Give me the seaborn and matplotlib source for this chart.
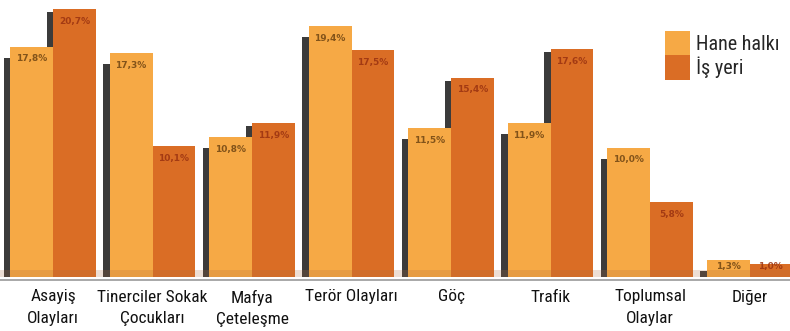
import matplotlib
matplotlib.use("Agg")
import matplotlib.pyplot as plt
import seaborn as sns
import pandas as pd
import numpy as np
from matplotlib.patches import Rectangle, Patch

categories = ["Asayiş\nOlayları", "Tinerciler Sokak\nÇocukları", "Mafya\nÇeteleşme",
              "Terör Olayları", "Göç", "Trafik", "Toplumsal\nOlaylar", "Diğer"]
hane = [17.8, 17.3, 10.8, 19.4, 11.5, 11.9, 10.0, 1.3]
isyeri = [20.7, 10.1, 11.9, 17.5, 15.4, 17.6, 5.8, 1.0]
hane_labels = ["17,8%", "17,3%", "10,8%", "19,4%", "11,5%", "11,9%", "10,0%", "1,3%"]
isyeri_labels = ["20,7%", "10,1%", "11,9%", "17,5%", "15,4%", "17,6%", "5,8%", "1,0%"]
series = ["Hane halkı", "İş yeri"]

sns.set_theme(style="white")
FAM = ["Liberation Sans Narrow", "Roboto Condensed", "DejaVu Sans"]
plt.rcParams["font.family"] = FAM

df = pd.DataFrame({
    "cat": categories * 2,
    "val": hane + isyeri,
    "ser": [series[0]] * len(categories) + [series[1]] * len(categories),
})
colors = {"Hane halkı": "#F6A945", "İş yeri": "#DA6D25"}

fig = plt.figure(figsize=(7.9, 3.31), dpi=100)
ax = fig.add_axes([0, 54 / 331, 1, 1 - 54 / 331])
sns.barplot(data=df, x="cat", y="val", hue="ser", palette=colors, width=0.86,
            ax=ax, legend=False, saturation=1, zorder=3, linewidth=0, edgecolor="none")

ax.set_xlim(-0.533, 7.407)
ax.set_ylim(0, 21.4)

bars = [p for p in ax.patches if isinstance(p, Rectangle) and p.get_height() > 0]
nb = len(categories)
for i, p in enumerate(bars):
    x0 = p.get_x(); w = p.get_width(); h = p.get_height()
    is_h = i < nb
    dy = 0.85 if is_h else 0.25
    sh = Rectangle((x0 - 0.065, -0.2), 0.1, max(h - dy + 0.2, 0.35),
                   facecolor="#3b3b3b", edgecolor="none", zorder=1)
    ax.add_patch(sh)
    lab = hane_labels[i] if is_h else isyeri_labels[i - nb]
    col = "#6e4412" if is_h else "#9a3210"
    ax.text(x0 + w / 2, max(h - 0.95, 0.8), lab, ha="center", va="center", fontsize=6.5,
            color=col, zorder=5, family=["DejaVu Sans"], fontweight="bold", alpha=0.85)

ax.axhspan(0, 0.55, color="#b07040", alpha=0.22, zorder=4, lw=0)
ax.axhline(-0.2, color="#9a9a9a", lw=1.2, zorder=0, clip_on=False)

ax.set_xlabel(""); ax.set_ylabel("")
ax.set_yticks([])
ax.set_xticks(range(nb))
ax.set_xticklabels(categories, fontsize=12.5, linespacing=1.55, color="#111111")
ax.tick_params(axis="x", length=0, pad=9)
for s in ax.spines.values():
    s.set_visible(False)

handles = [Patch(facecolor=colors[s], edgecolor="none") for s in series]
fig.legend(handles, series, loc="upper left", bbox_to_anchor=(665 / 790, 1 - 31 / 331),
           frameon=False, fontsize=14.5, handlelength=1.24, handleheight=1.49,
           handletextpad=0.3, labelspacing=0.0, borderaxespad=0, borderpad=0)

fig.savefig("out.png", dpi=100)
